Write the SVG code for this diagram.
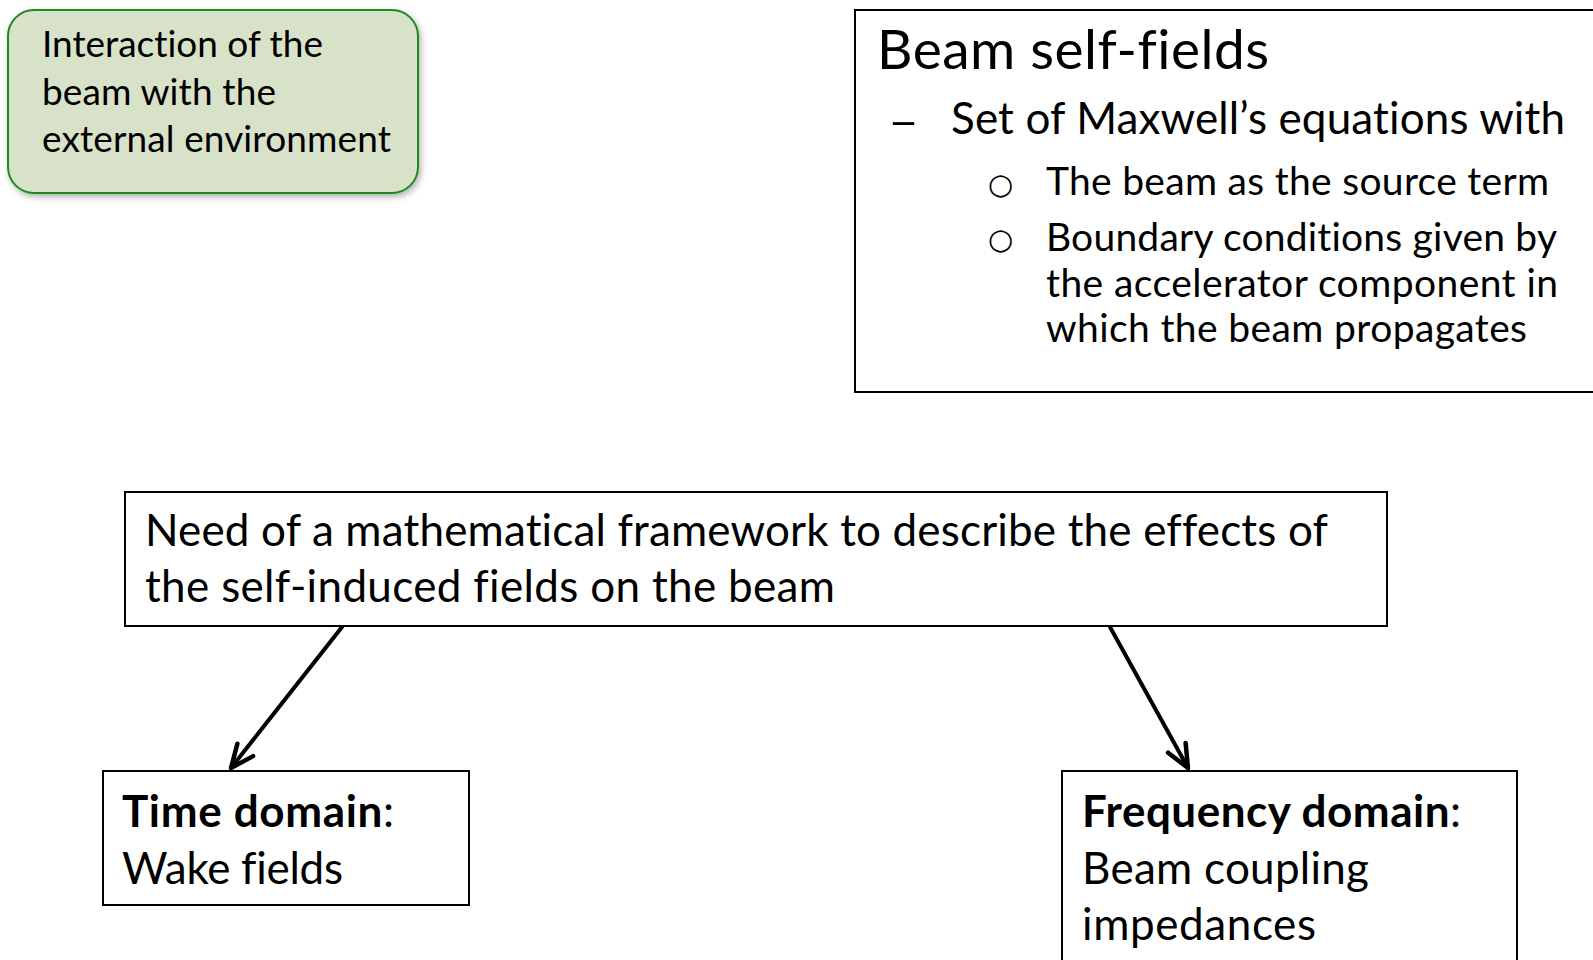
<svg xmlns="http://www.w3.org/2000/svg" width="1593" height="960" viewBox="0 0 1593 960">
<defs>
<style>
.t{font-family:Lato,"Open Sans","Liberation Sans",sans-serif;fill:#000;font-variant-ligatures:none;font-feature-settings:"liga" 0}
.box{fill:#fff;stroke:#000;stroke-width:2}
.bul{font-family:"DejaVu Sans",sans-serif;fill:#000}
.blk{fill:none;stroke:#000;stroke-width:4;stroke-linecap:round}
.grn{fill:none;stroke:#128412;stroke-width:4.5;stroke-linecap:round}
</style>
<filter id="sh" x="-10%" y="-10%" width="130%" height="140%">
<feDropShadow dx="2" dy="3" stdDeviation="3" flood-color="#000" flood-opacity="0.3"/>
</filter>
<marker id="ah" markerUnits="userSpaceOnUse" markerWidth="40" markerHeight="40" refX="0" refY="0" viewBox="-30 -20 40 40" orient="auto">
<path d="M-23,-10 L0,0 L-23,10" fill="none" stroke="#000" stroke-width="4.5" stroke-linecap="round" stroke-linejoin="round"/>
</marker>
<marker id="ahg" markerUnits="userSpaceOnUse" markerWidth="40" markerHeight="40" refX="0" refY="0" viewBox="-30 -20 40 40" orient="auto">
<path d="M-22,-10 L0,0 L-22,10" fill="none" stroke="#128412" stroke-width="4.5" stroke-linecap="round" stroke-linejoin="round"/>
</marker>
</defs>
<rect width="1593" height="960" fill="#fff"/>
<g id="connectors">
<line class="grn" x1="419" y1="83" x2="840" y2="83" marker-end="url(#ahg)" filter="url(#sh)"/>
<line class="blk" x1="342" y1="627" x2="231" y2="768" marker-end="url(#ah)"/>
<line class="blk" x1="1110" y1="627" x2="1188" y2="768" marker-end="url(#ah)"/>
</g>
<g id="node-interaction">
<rect x="8" y="10" width="410" height="183" rx="26" ry="26" fill="#d8e2c9" stroke="#1f8a1f" stroke-width="2" filter="url(#sh)"/>
<text class="t" font-size="37" x="42" y="57" textLength="281" lengthAdjust="spacing">Interaction of the</text>
<text class="t" font-size="37" x="42" y="105" textLength="234" lengthAdjust="spacing">beam with the</text>
<text class="t" font-size="37" x="42" y="152" textLength="349" lengthAdjust="spacing">external environment</text>
</g>
<g id="node-selffields">
<rect class="box" x="855" y="10" width="800" height="382"/>
<text class="t" font-size="55" x="877" y="69" textLength="392" lengthAdjust="spacing">Beam self-fields</text>
<text class="t" font-size="44" x="888" y="137" textLength="31" lengthAdjust="spacingAndGlyphs">–</text>
<text class="t" font-size="44" x="951" y="134" textLength="614" lengthAdjust="spacing">Set of Maxwell’s equations with</text>
<text class="bul" font-size="29" x="988" y="194">○</text>
<text class="t" font-size="39" x="1046" y="195" textLength="503" lengthAdjust="spacing">The beam as the source term</text>
<text class="bul" font-size="29" x="988" y="249">○</text>
<text class="t" font-size="39" x="1046" y="251" textLength="511" lengthAdjust="spacing">Boundary conditions given by</text>
<text class="t" font-size="39" x="1046" y="297" textLength="512" lengthAdjust="spacing">the accelerator component in</text>
<text class="t" font-size="39" x="1046" y="342" textLength="481" lengthAdjust="spacing">which the beam propagates</text>
</g>
<g id="node-framework">
<rect class="box" x="125" y="492" width="1262" height="134"/>
<text class="t" font-size="44" x="145" y="546" textLength="1183" lengthAdjust="spacing">Need of a mathematical framework to describe the effects of</text>
<text class="t" font-size="44" x="145" y="602" textLength="690" lengthAdjust="spacing">the self-induced fields on the beam</text>
</g>
<g id="node-time">
<rect class="box" x="103" y="771" width="366" height="134"/>
<text class="t" font-size="44" x="122" y="827" textLength="272" lengthAdjust="spacing"><tspan font-weight="bold">Time domain</tspan>:</text>
<text class="t" font-size="44" x="122" y="884" textLength="221" lengthAdjust="spacing">Wake fields</text>
</g>
<g id="node-frequency">
<rect class="box" x="1062" y="771" width="455" height="220"/>
<text class="t" font-size="44" x="1082" y="827" textLength="379" lengthAdjust="spacing"><tspan font-weight="bold">Frequency domain</tspan>:</text>
<text class="t" font-size="44" x="1082" y="884" textLength="287" lengthAdjust="spacing">Beam coupling</text>
<text class="t" font-size="44" x="1082" y="940" textLength="234" lengthAdjust="spacing">impedances</text>
</g>
</svg>
